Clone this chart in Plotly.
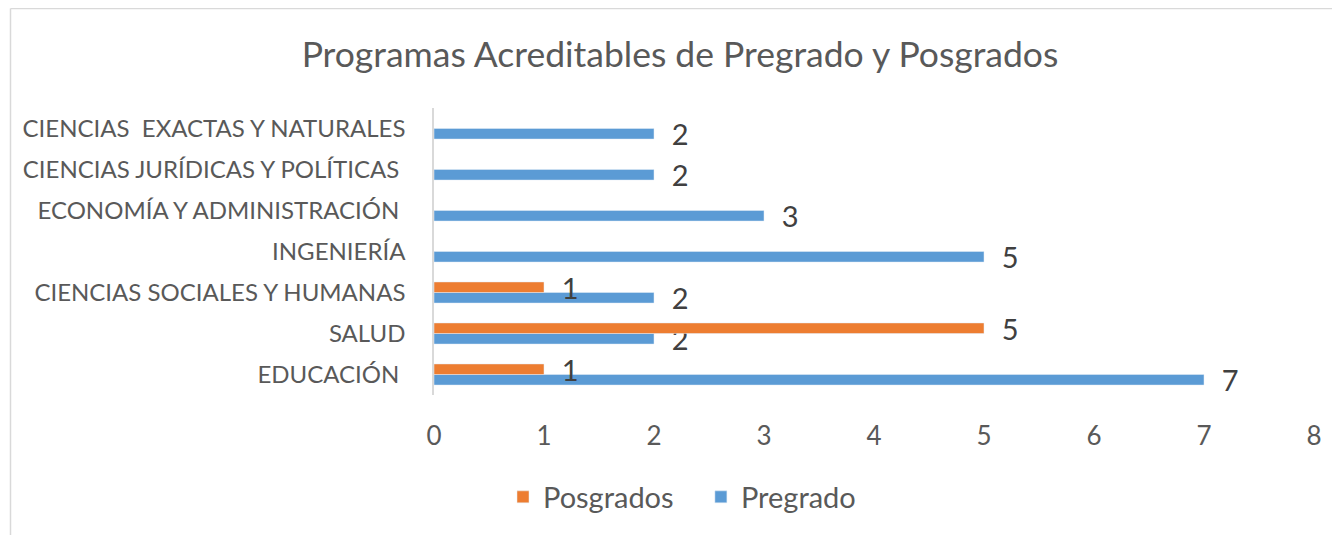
import plotly.graph_objects as go

NB = "\u00a0"
categorias = [
    "EDUCACIÓN" + NB,
    "SALUD",
    "CIENCIAS SOCIALES Y HUMANAS",
    "INGENIERÍA",
    "ECONOMÍA Y ADMINISTRACIÓN" + NB,
    "CIENCIAS JURÍDICAS Y POLÍTICAS" + NB,
    "CIENCIAS" + NB * 2 + "EXACTAS Y NATURALES",
]
pregrado = [7, 2, 2, 5, 3, 2, 2]
posgrados = [1, 5, 1, None, None, None, None]

gris = "#595959"
fuente = "Lato"

fig = go.Figure()
fig.add_trace(go.Bar(
    y=categorias, x=pregrado, name="Pregrado", orientation="h",
    marker_color="#5B9BD5", text=pregrado, texttemplate=NB * 2 + "%{x}",
    textposition="outside", constraintext="none", cliponaxis=False,
    textfont=dict(size=29, color="#404040", family=fuente),
))
fig.add_trace(go.Bar(
    y=categorias, x=posgrados, name="Posgrados" + NB * 3, orientation="h",
    marker_color="#ED7D31", text=posgrados, texttemplate=NB * 2 + "%{x}",
    textposition="outside", constraintext="none", cliponaxis=False,
    textfont=dict(size=29, color="#404040", family=fuente),
))

# el navegador añade 8 px de margen al cuerpo de la página
L, T, W, H = 426, 100, 880, 287

# marco del gráfico (recortado a la derecha y abajo)
x0 = (2.5 - L) / W
y0 = (T + H - 0.5) / H
fig.add_shape(type="line", xref="paper", yref="paper", x0=x0, x1=x0, y0=-1, y1=y0,
              line=dict(color="#D9D9D9", width=1.5))
fig.add_shape(type="line", xref="paper", yref="paper", x0=x0, x1=1.2, y0=y0, y1=y0,
              line=dict(color="#D9D9D9", width=1.5))

fig.update_layout(
    width=1340, height=535,
    margin=dict(l=L, r=1340 - L - W, t=T, b=535 - T - H),
    paper_bgcolor="white", plot_bgcolor="white",
    barmode="group", bargap=0.485, bargroupgap=0,
    font=dict(family=fuente, color=gris),
    title=dict(text="Programas Acreditables de Pregrado y Posgrados",
               x=672 / 1340, xref="container", xanchor="center",
               y=1 - 47 / 535, yref="container", yanchor="middle",
               font=dict(size=35.5, color=gris, family=fuente)),
    xaxis=dict(range=[0, 8], dtick=1, showgrid=False, zeroline=False,
               showline=False, ticks="", ticklabelstandoff=23,
               tickfont=dict(size=26, color=gris)),
    yaxis=dict(showgrid=False, zeroline=False, showline=True,
               linecolor="#D9D9D9", linewidth=1.5, ticks="",
               ticklabelstandoff=22, tickfont=dict(size=24, color=gris)),
    legend=dict(orientation="h", traceorder="reversed",
                x=(495 - L) / W, xanchor="left",
                y=(T + H - 489) / H, yanchor="middle",
                font=dict(size=29, color=gris), itemwidth=30),
)

fig.write_html("out.html")
